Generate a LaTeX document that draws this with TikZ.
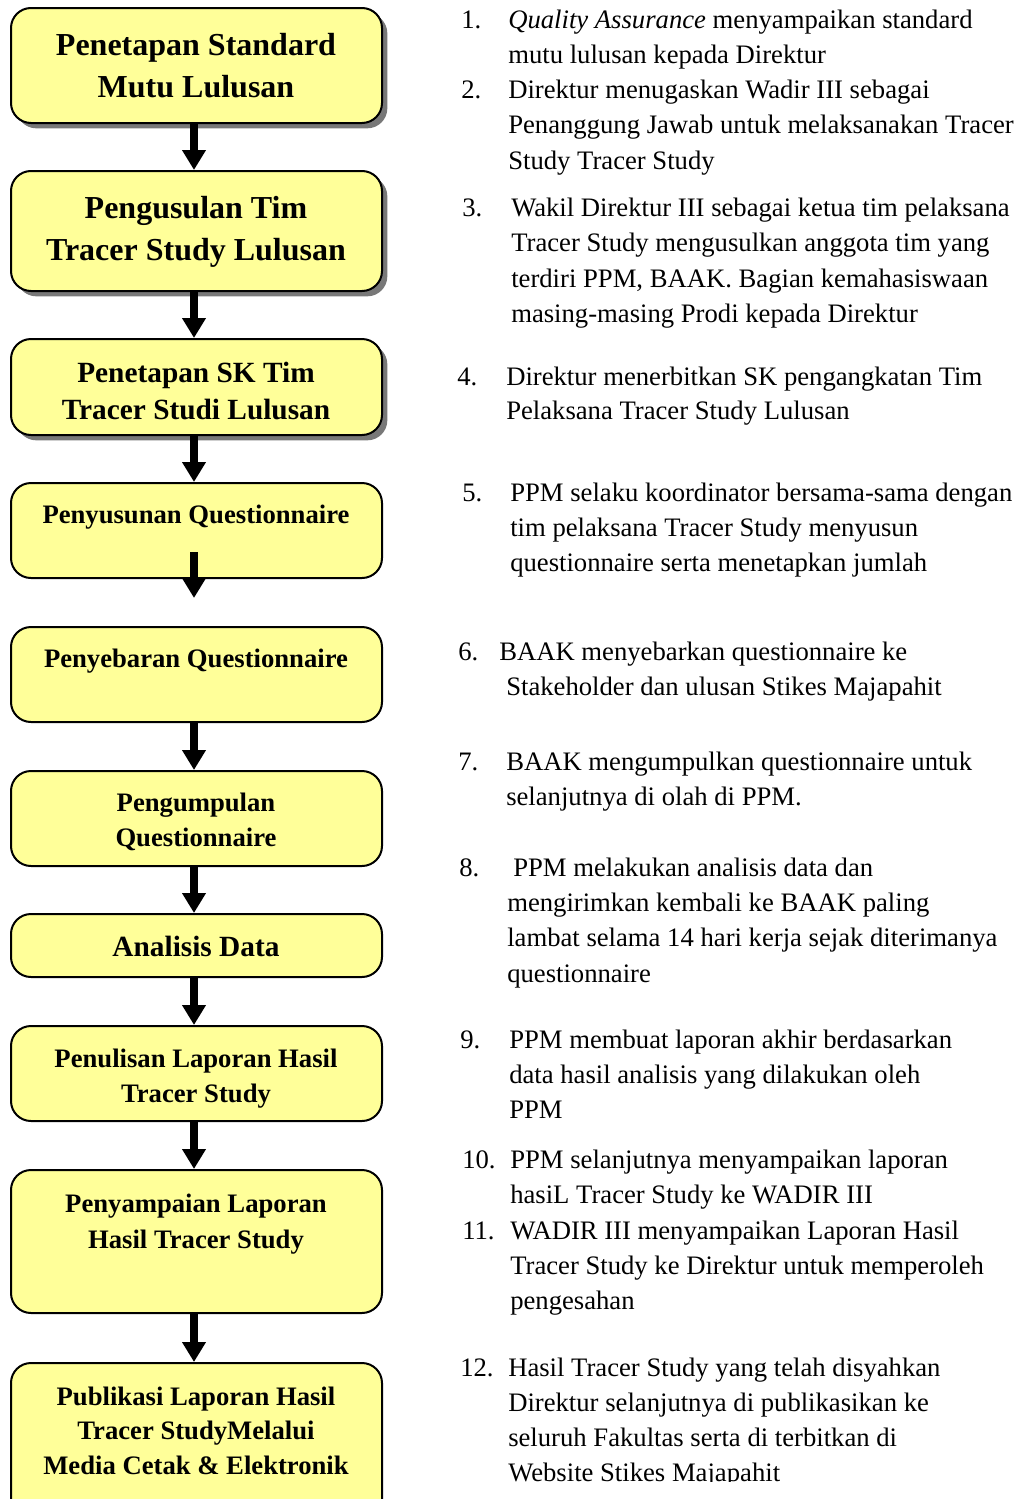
\documentclass[tikz,border=0pt]{standalone}
\usepackage{fontspec}
\setmainfont{Liberation Serif}
\usetikzlibrary{arrows.meta,shadows,fit}
\definecolor{boxyellow}{RGB}{255,255,153}
\definecolor{shadowgray}{RGB}{120,120,120}
\begin{document}
\begin{tikzpicture}[x=0.75pt,y=-0.75pt,
  box/.style={draw=black,line width=1.5pt,rounded corners=15pt,fill=boxyellow,inner sep=0pt},
  shbox/.style={box,drop shadow={shadow xshift=4pt,shadow yshift=-4pt,fill=shadowgray,opacity=1}},
  btA/.style={font=\bfseries\fontsize{24}{28}\selectfont,anchor=base,inner sep=0pt},
  btB/.style={font=\bfseries\fontsize{22}{26}\selectfont,anchor=base,inner sep=0pt},
  btC/.style={font=\bfseries\fontsize{20}{24}\selectfont,anchor=base,inner sep=0pt},
  txt/.style={font=\fontsize{20}{26}\selectfont,anchor=base west,inner sep=0pt},
  arr/.style={line width=6pt,-{Triangle[length=15pt,width=17pt]}}
]
\useasboundingbox (0,0) rectangle (1015,1499);
\begin{scope}
\clip (0,0) rectangle (1015,1499);
% boxes
\node[shbox,fit={(11,8) (382,123)}] (b1) {};
\node[shbox,fit={(11,171) (382,291)}] (b2) {};
\node[shbox,fit={(11,339) (382,435)}] (b3) {};
\node[box,fit={(11,483) (382,578)}] (b4) {};
\node[box,fit={(11,627) (382,722)}] (b5) {};
\node[box,fit={(11,771) (382,866)}] (b6) {};
\node[box,fit={(11,914) (382,977)}] (b7) {};
\node[box,fit={(11,1026) (382,1121)}] (b8) {};
\node[box,fit={(11,1170) (382,1313)}] (b9) {};
\node[box,fit={(11,1363) (382,1530)}] (b10) {};
% box texts
\node[btA] (b1a) at (196,55) {Penetapan Standard};
\node[btA] (b1b) at (196,97) {Mutu Lulusan};
\node[btA] (b2a) at (196,218) {Pengusulan Tim};
\node[btA] (b2b) at (196,260) {Tracer Study Lulusan};
\node[btB] (b3a) at (196,382) {Penetapan SK Tim};
\node[btB] (b3b) at (196,419) {Tracer Studi Lulusan};
\node[btC] (b4a) at (196,523) {Penyusunan Questionnaire};
\node[btC] (b5a) at (196,667) {Penyebaran Questionnaire};
\node[btC] (b6a) at (196,811) {Pengumpulan};
\node[btC] (b6b) at (196,846) {Questionnaire};
\node[btB] (b7a) at (196,956) {Analisis Data};
\node[btC] (b8a) at (196,1067) {Penulisan Laporan Hasil};
\node[btC] (b8b) at (196,1102) {Tracer Study};
\node[btC] (b9a) at (196,1212) {Penyampaian Laporan};
\node[btC] (b9b) at (196,1248) {Hasil Tracer Study};
\node[btC] (b10a) at (196,1405) {Publikasi Laporan Hasil};
\node[btC] (b10b) at (196,1439) {Tracer StudyMelalui};
\node[btC] (b10c) at (196,1474) {Media Cetak \& Elektronik};
% arrows
\coordinate (a4s) at (194,552);
\coordinate (a4e) at (194,598);
\draw[arr] (b1.south -| 194,0) -- (b2.north -| 194,0);
\draw[arr] (b2.south -| 194,0) -- (b3.north -| 194,0);
\draw[arr] (b3.south -| 194,0) -- (b4.north -| 194,0);
\draw[arr] (a4s) -- (a4e);
\draw[arr] (b5.south -| 194,0) -- (b6.north -| 194,0);
\draw[arr] (b6.south -| 194,0) -- (b7.north -| 194,0);
\draw[arr] (b7.south -| 194,0) -- (b8.north -| 194,0);
\draw[arr] (b8.south -| 194,0) -- (b9.north -| 194,0);
\draw[arr] (b9.south -| 194,0) -- (b10.north -| 194,0);
\end{scope}
% right column
\begin{scope}
\clip (440,0) rectangle (1015,1481);
\node[txt] (n1) at (461,28) {1.};
\node[txt] (t1a) at (508,28) {\textit{Quality Assurance} menyampaikan standard};
\node[txt] (t1b) at (508,63) {mutu lulusan kepada Direktur};
\node[txt] (n2) at (461,98) {2.};
\node[txt] (t2a) at (508,98) {Direktur menugaskan Wadir III sebagai};
\node[txt] (t2b) at (508,133) {Penanggung Jawab untuk melaksanakan Tracer};
\node[txt] (t2c) at (508,169) {Study Tracer Study};
\node[txt] (n3) at (462,216) {3.};
\node[txt] (t3a) at (511,216) {Wakil Direktur III sebagai ketua tim pelaksana};
\node[txt] (t3b) at (511,251) {Tracer Study mengusulkan anggota tim yang};
\node[txt] (t3c) at (511,287) {terdiri PPM, BAAK. Bagian kemahasiswaan};
\node[txt] (t3d) at (511,322) {masing-masing Prodi kepada Direktur};
\node[txt] (n4) at (457,385) {4.};
\node[txt] (t4a) at (506,385) {Direktur menerbitkan SK pengangkatan Tim};
\node[txt] (t4b) at (506,419) {Pelaksana Tracer Study Lulusan};
\node[txt] (n5) at (462,501) {5.};
\node[txt] (t5a) at (510,501) {PPM selaku koordinator bersama-sama dengan};
\node[txt] (t5b) at (510,536) {tim pelaksana Tracer Study menyusun};
\node[txt] (t5c) at (510,571) {questionnaire serta menetapkan jumlah};
\node[txt] (n6) at (458,660) {6.};
\node[txt] (t6a) at (499,660) {BAAK menyebarkan questionnaire ke};
\node[txt] (t6b) at (506,695) {Stakeholder dan ulusan Stikes Majapahit};
\node[txt] (n7) at (458,770) {7.};
\node[txt] (t7a) at (506,770) {BAAK mengumpulkan questionnaire untuk};
\node[txt] (t7b) at (506,805) {selanjutnya di olah di PPM.};
\node[txt] (n8) at (459,876) {8.};
\node[txt] (t8a) at (513,876) {PPM melakukan analisis data dan};
\node[txt] (t8b) at (507,911) {mengirimkan kembali ke BAAK paling};
\node[txt] (t8c) at (507,946) {lambat selama 14 hari kerja sejak diterimanya};
\node[txt] (t8d) at (507,982) {questionnaire};
\node[txt] (n9) at (460,1048) {9.};
\node[txt] (t9a) at (509,1048) {PPM membuat laporan akhir berdasarkan};
\node[txt] (t9b) at (509,1083) {data hasil analisis yang dilakukan oleh};
\node[txt] (t9c) at (509,1118) {PPM};
\node[txt] (n10) at (462,1168) {10.};
\node[txt] (t10a) at (510,1168) {PPM selanjutnya menyampaikan laporan};
\node[txt] (t10b) at (510,1203) {hasiL Tracer Study ke WADIR III};
\node[txt] (n11) at (462,1239) {11.};
\node[txt] (t11a) at (510,1239) {WADIR III menyampaikan Laporan Hasil};
\node[txt] (t11b) at (510,1274) {Tracer Study ke Direktur untuk memperoleh};
\node[txt] (t11c) at (510,1309) {pengesahan};
\node[txt] (n12) at (460,1376) {12.};
\node[txt] (t12a) at (508,1376) {Hasil Tracer Study yang telah disyahkan};
\node[txt] (t12b) at (508,1411) {Direktur selanjutnya di publikasikan ke};
\node[txt] (t12c) at (508,1446) {seluruh Fakultas serta di terbitkan di};
\node[txt] (t12d) at (508,1481) {Website Stikes Majapahit};
\end{scope}
\end{tikzpicture}
\end{document}
